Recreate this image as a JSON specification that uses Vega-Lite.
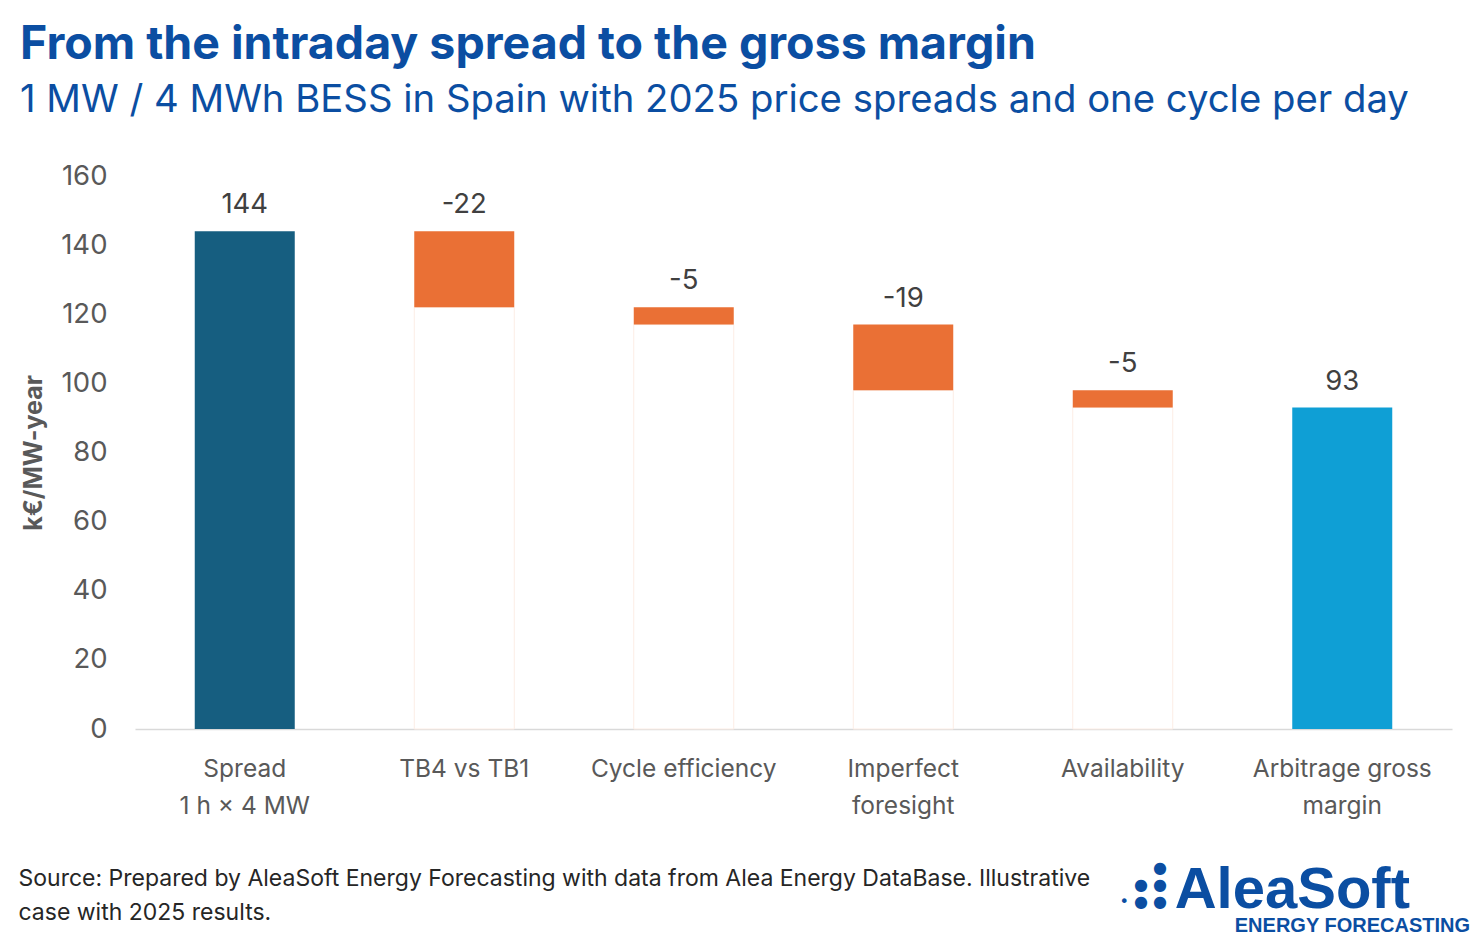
{
  "$schema": "https://vega.github.io/schema/vega-lite/v6.json",
  "autosize": {"type": "none"},
  "width": 1317,
  "height": 553,
  "padding": {"left": 135, "top": 176, "right": 28, "bottom": 215},
  "background": "white",
  "config": {
    "view": {"stroke": null},
    "font": "Inter"
  },
  "title": {
    "text": "From the intraday spread to the gross margin",
    "subtitle": "1 MW / 4 MWh BESS in Spain with 2025 price spreads and one cycle per day",
    "anchor": "start",
    "frame": "group",
    "dx": -115,
    "offset": 43,
    "font": "Inter",
    "fontSize": 46.5,
    "fontWeight": "bold",
    "color": "#0B4EA2",
    "subtitleFont": "Inter",
    "subtitleFontSize": 38.3,
    "subtitleFontWeight": "normal",
    "subtitleColor": "#0B4EA2",
    "subtitlePadding": 13
  },
  "datasets": {
    "steps": [
      {"step": "Spread|1 h × 4 MW", "value": "144", "lo": 0, "hi": 144, "kind": "total"},
      {"step": "TB4 vs TB1", "value": "-22", "lo": 122, "hi": 144, "kind": "loss"},
      {"step": "Cycle efficiency", "value": "-5", "lo": 117, "hi": 122, "kind": "loss"},
      {"step": "Imperfect|foresight", "value": "-19", "lo": 98, "hi": 117, "kind": "loss"},
      {"step": "Availability", "value": "-5", "lo": 93, "hi": 98, "kind": "loss"},
      {"step": "Arbitrage gross|margin", "value": "93", "lo": 0, "hi": 93, "kind": "result"}
    ],
    "logo": [
      {"brand": "AleaSoft", "tag": "ENERGY FORECASTING", "dots": ["●", "● ●", "• ● ●"]}
    ]
  },
  "layer": [
    {
      "data": {"name": "steps"},
      "transform": [{"filter": "datum.kind == 'loss'"}],
      "mark": {"type": "bar", "width": 100, "fill": "white", "stroke": "#FCEDE5", "strokeWidth": 1},
      "encoding": {
        "x": {"field": "step", "type": "nominal", "sort": ["Spread|1 h × 4 MW", "TB4 vs TB1", "Cycle efficiency", "Imperfect|foresight", "Availability", "Arbitrage gross|margin"]},
        "y": {"field": "lo", "type": "quantitative"}
      }
    },
    {
      "data": {"name": "steps"},
      "mark": {"type": "bar", "width": 100},
      "encoding": {
        "x": {
          "field": "step",
          "type": "nominal",
          "sort": ["Spread|1 h × 4 MW", "TB4 vs TB1", "Cycle efficiency", "Imperfect|foresight", "Availability", "Arbitrage gross|margin"],
          "scale": {"paddingInner": 0, "paddingOuter": 0},
          "axis": {
            "labelExpr": "split(datum.label, '|')",
            "labelAngle": 0,
            "labelAlign": "center",
            "labelFontSize": 24.5,
            "labelColor": "#595959",
            "labelLineHeight": 37,
            "labelPadding": 40,
            "labelLimit": 0,
            "labelFont": "Inter",
            "ticks": false,
            "domainColor": "#D9D9D9",
            "domainWidth": 1.5,
            "title": ["Source: Prepared by AleaSoft Energy Forecasting with data from Alea Energy DataBase. Illustrative", "case with 2025 results."],
            "titleAnchor": "start",
            "titleAlign": "left",
            "titleBaseline": "top",
            "titleX": -117,
            "titleY": 138,
            "titleFontSize": 23,
            "titleFontWeight": "normal",
            "titleColor": "#262626",
            "titleLineHeight": 34,
            "titleFont": "Inter"
          }
        },
        "y": {
          "field": "lo",
          "type": "quantitative",
          "scale": {"domain": [0, 160]},
          "axis": {
            "values": [0, 20, 40, 60, 80, 100, 120, 140, 160],
            "grid": false,
            "domain": false,
            "ticks": false,
            "labelFontSize": 27.5,
            "labelColor": "#595959",
            "labelPadding": 28,
            "labelFont": "Inter",
            "title": "k€/MW-year",
            "titleFontSize": 25,
            "titleFontWeight": "bold",
            "titleColor": "#595959",
            "titlePadding": 14,
            "titleFont": "Inter"
          }
        },
        "y2": {"field": "hi"},
        "color": {
          "field": "kind",
          "type": "nominal",
          "scale": {"domain": ["total", "loss", "result"], "range": ["#165E80", "#EA7035", "#0F9FD5"]},
          "legend": null
        }
      }
    },
    {
      "data": {"name": "steps"},
      "mark": {"type": "text", "baseline": "alphabetic", "dy": -18, "fontSize": 27.5, "color": "#404040", "font": "Inter"},
      "encoding": {
        "x": {"field": "step", "type": "nominal", "sort": ["Spread|1 h × 4 MW", "TB4 vs TB1", "Cycle efficiency", "Imperfect|foresight", "Availability", "Arbitrage gross|margin"]},
        "y": {"field": "hi", "type": "quantitative"},
        "text": {"field": "value", "type": "nominal"}
      }
    },
    {
      "data": {"name": "logo"},
      "mark": {"type": "text", "align": "right", "baseline": "alphabetic", "fontSize": 58, "fontWeight": "bold", "color": "#0B4EA2", "font": "Liberation Sans", "x": {"expr": "width - 42"}, "y": {"expr": "height + 179"}},
      "encoding": {"text": {"field": "brand", "type": "nominal"}}
    },
    {
      "data": {"name": "logo"},
      "mark": {"type": "text", "align": "right", "baseline": "alphabetic", "fontSize": 20, "fontWeight": "bold", "color": "#0B4EA2", "font": "Liberation Sans", "x": {"expr": "width + 18"}, "y": {"expr": "height + 203"}},
      "encoding": {"text": {"field": "tag", "type": "nominal"}}
    },
    {
      "data": {"name": "logo"},
      "mark": {"type": "text", "align": "right", "baseline": "top", "fontSize": 16, "lineHeight": 17, "color": "#0B4EA2", "font": "DejaVu Sans", "x": {"expr": "width - 285"}, "y": {"expr": "height + 131"}},
      "encoding": {"text": {"field": "dots", "type": "nominal"}}
    }
  ]
}
